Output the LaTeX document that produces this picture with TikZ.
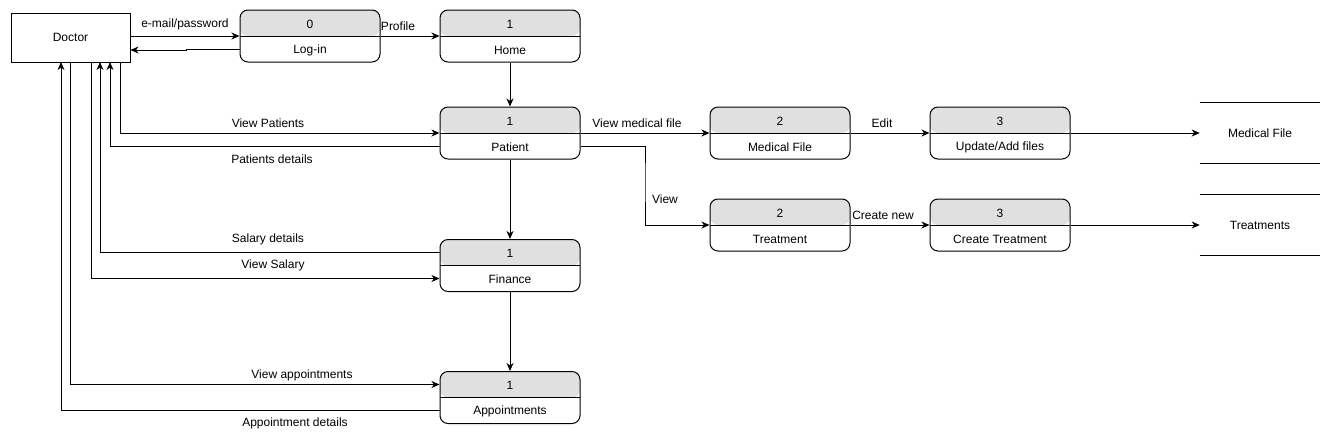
\documentclass[tikz,border=0pt]{standalone}
\usepackage{fontspec}
\setmainfont{Liberation Sans}
\usetikzlibrary{arrows.meta,calc}
\definecolor{headgray}{RGB}{224,224,224}
\begin{document}
\begin{tikzpicture}[x=0.75pt,y=-0.75pt,
  every node/.style={font=\fontsize{9pt}{11pt}\selectfont, inner sep=0pt},
  line/.style={line width=0.75pt, draw=black},
  arr/.style={line, -{Stealth[length=6pt,width=5.2pt,inset=1.8pt]}},
  proc/.style={line, rounded corners=6pt, minimum width=105pt, minimum height=39pt,
    path picture={\fill[headgray] (path picture bounding box.north west) rectangle (path picture bounding box.east);
      \draw[line width=0.75pt] (path picture bounding box.west) -- (path picture bounding box.east);}},
  ent/.style={line, minimum width=89.25pt, minimum height=36.75pt},
  store/.style={minimum width=90pt, minimum height=45pt},
  txt/.style={yshift=-0.7pt},
  lbl/.style={txt}
]
\useasboundingbox (0,0) rectangle (1331,444);

% external entity
\node[ent] (doc) at (70.5,37.5) {\raisebox{-0.7pt}{Doctor}};

% processes
\newcommand{\procbox}[5]{%
  \node[proc] (#1) at (#2,#3) {};
  \node[txt] (#1-num) at ($(#1.center)+(0,-13)$) {#4};
  \node[txt] (#1-lbl) at ($(#1.center)+(0,13)$) {#5};}
\procbox{login}{310}{36}{0}{Log-in}
\procbox{home}{510}{36}{1}{Home}
\procbox{pat}{510}{133}{1}{Patient}
\procbox{fin}{510}{265.5}{1}{Finance}
\procbox{appt}{510}{397.5}{1}{Appointments}
\procbox{mf}{780}{133}{2}{Medical File}
\procbox{upd}{1000}{133}{3}{Update/Add files}
\procbox{treat}{780}{225}{2}{Treatment}
\procbox{ctreat}{1000}{225}{3}{Create Treatment}

% data stores
\node[store] (mfs) at (1260,133) {\raisebox{-0.7pt}{Medical File}};
\draw[line] (mfs.north west) -- (mfs.north east);
\draw[line] (mfs.south west) -- (mfs.south east);
\node[store] (trs) at (1260,225) {\raisebox{-0.7pt}{Treatments}};
\draw[line] (trs.north west) -- (trs.north east);
\draw[line] (trs.south west) -- (trs.south east);

% doctor ports
\coordinate (dA) at (61,62);
\coordinate (dB) at (70,62);
\coordinate (dC) at (91,62);
\coordinate (dD) at (100,62);
\coordinate (dE) at (110,62);
\coordinate (dF) at (120,62);

% connectors
\draw[arr] (doc.east |- login.west) -- (login.west);
\draw[arr] (login.west |- 0,49) -- (186,49) -- (186,50) -- (doc.east |- 0,50);
\draw[arr] (login.east) -- (home.west);
\draw[arr] (home.south) -- (pat.north);
\draw[arr] (pat.south) -- (fin.north);
\draw[arr] (fin.south) -- (appt.north);

\draw[arr] (dF) |- (pat.west);
\draw[arr] (pat.west |- 0,146) -| (dE);
\draw[arr] (fin.west |- 0,252.5) -| (dD);
\draw[arr] (dC) |- (fin.west |- 0,278.5);
\draw[arr] (dB) |- (appt.west |- 0,384.5);
\draw[arr] (appt.west |- 0,410.5) -| (dA);

\draw[arr] (pat.east) -- (mf.west);
\draw[arr] (pat.east |- 0,146) -| ($(pat.east)!.5!(treat.west)$) |- (treat.west);
\draw[arr] (mf.east) -- (upd.west);
\draw[arr] (treat.east) -- (ctreat.west);
\draw[arr] (upd.east) -- (mfs.west);
\draw[arr] (ctreat.east) -- (trs.west);

% labels
\node[lbl] (l1) at (185,23) {e-mail/password};
\node[lbl] (l2) at (398,25) {Profile};
\node[lbl] (l3) at (268,122) {View Patients};
\node[lbl] (l4) at (272,158) {Patients details};
\node[lbl] (l5) at (268,238) {Salary details};
\node[lbl] (l6) at (273,264) {View Salary};
\node[lbl] (l7) at (302,374) {View appointments};
\node[lbl] (l8) at (295,422) {Appointment details};
\node[lbl] (l9) at (637,122) {View medical file};
\node[lbl] (l10) at (665,198) {View};
\node[lbl] (l11) at (882,122) {Edit};
\node[lbl] (l12) at (883,214) {Create new};
\end{tikzpicture}
\end{document}
